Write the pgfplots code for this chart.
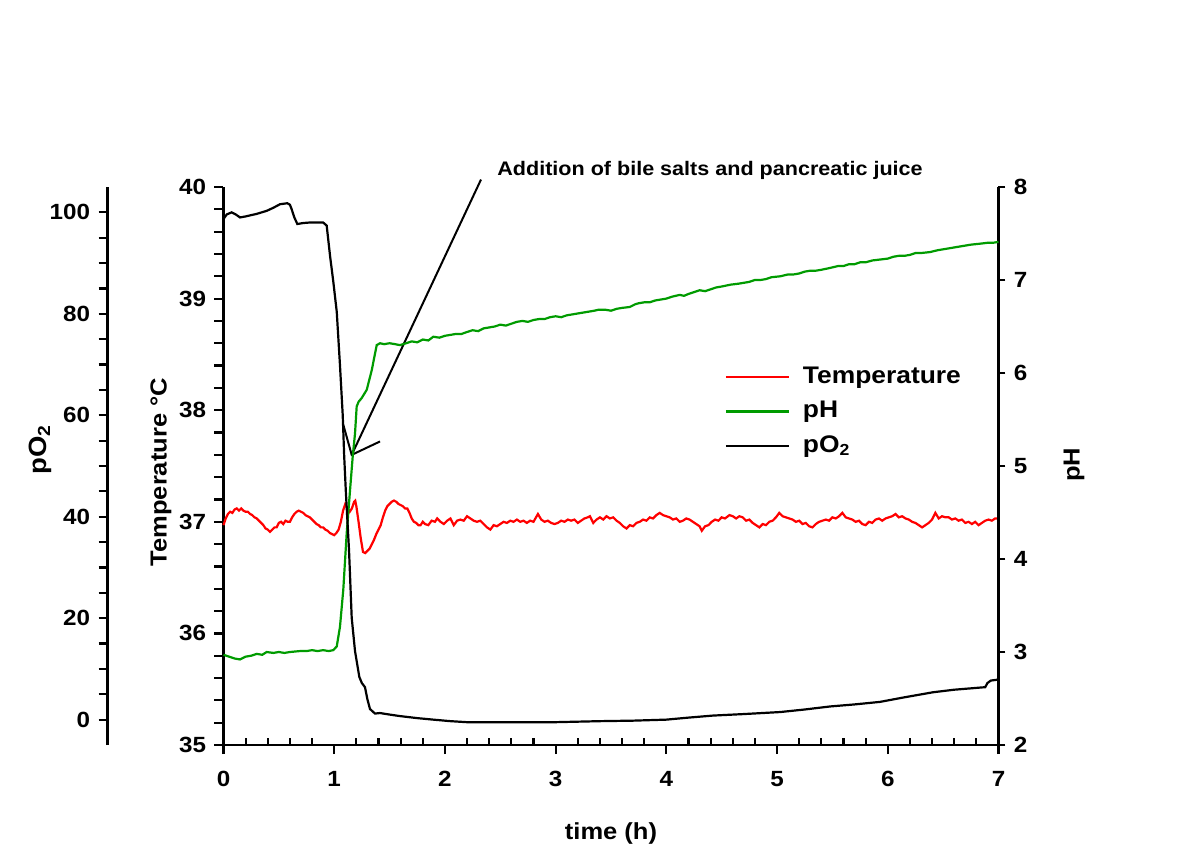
\documentclass[border=0pt]{standalone}
\usepackage{pgfplots}
\pgfplotsset{compat=1.18}
\usepackage{fontspec}
\setmainfont[FakeStretch=1.1]{Liberation Sans}
\definecolor{tred}{RGB}{255,0,0}
\definecolor{tgreen}{RGB}{0,155,0}
\pgfplotsset{
  every axis/.append style={
    width=387.5pt, height=279pt, scale only axis,
    at={(0,0)}, anchor=south west,
    xmin=0, xmax=7,
    /pgf/number format/assume math mode=true,
    tick label style={font=\fontsize{11}{13}\selectfont\bfseries},
    label style={font=\fontsize{11.6}{14}\selectfont\bfseries},
    axis line style={line width=1.3pt,-},
    tick style={black,line width=1.1pt},
    major tick length=4.5pt, minor tick length=4.5pt,
    clip=false,
  },
}
\begin{document}
\fontsize{12}{14}\selectfont\bfseries
\begin{tikzpicture}
\useasboundingbox (-111.75pt,-54pt) rectangle (488.25pt,372.5pt);

% Temperature axis (left) with x axis
\begin{axis}[
  ymin=35, ymax=40,
  axis x line*=bottom, axis y line*=left,
  xtick={0,...,7}, ytick={35,...,40}, minor y tick num=4,
  tick align=outside,
  xticklabel style={yshift=-4.5pt},
  xlabel={time (h)},
  xlabel style={at={(axis description cs:0.5,-0.1577)}, anchor=center},
  ylabel={Temperature °C},
  ylabel style={at={(axis description cs:-0.0806,0.489)}, anchor=center},
  legend style={at={(axis description cs:0.6385,0.692)}, anchor=north west, draw=none, fill=none,
    font=\fontsize{12}{14}\selectfont\bfseries, row sep=3pt, column sep=4.5pt},
  legend cell align=left,
  legend image code/.code={\draw[#1] (0pt,0pt) -- (31.5pt,0pt);},
]
\addplot[tred, line width=1.1pt] coordinates {
(0.00,36.97)(0.02,37.03)(0.04,37.07)(0.06,37.09)(0.08,37.08)(0.10,37.11)(0.12,37.12)(0.14,37.10)(0.16,37.12)(0.18,37.10)
(0.20,37.09)(0.22,37.09)(0.24,37.07)(0.26,37.06)(0.28,37.04)(0.30,37.03)(0.32,37.01)(0.34,36.99)(0.36,36.97)(0.38,36.94)
(0.40,36.93)(0.42,36.91)(0.44,36.93)(0.46,36.95)(0.48,36.95)(0.50,36.99)(0.52,37.00)(0.54,36.98)(0.56,37.01)(0.58,37.00)
(0.60,37.00)(0.62,37.04)(0.64,37.07)(0.66,37.09)(0.68,37.10)(0.70,37.09)(0.72,37.08)(0.74,37.06)(0.76,37.05)(0.78,37.04)
(0.80,37.02)(0.82,37.00)(0.84,36.98)(0.86,36.97)(0.88,36.95)(0.90,36.95)(0.92,36.93)(0.94,36.92)(0.96,36.90)(0.98,36.89)
(1.00,36.88)(1.02,36.90)(1.04,36.93)(1.06,37.00)(1.08,37.10)(1.10,37.16)(1.12,37.12)(1.14,37.09)(1.16,37.12)(1.18,37.18)
(1.19,37.19)(1.20,37.14)(1.22,37.00)(1.24,36.85)(1.26,36.73)(1.28,36.72)(1.30,36.74)(1.32,36.76)(1.34,36.80)(1.36,36.84)
(1.38,36.89)(1.40,36.93)(1.42,36.97)(1.44,37.04)(1.46,37.10)(1.48,37.14)(1.50,37.16)(1.52,37.18)(1.54,37.19)(1.56,37.18)
(1.58,37.16)(1.60,37.15)(1.62,37.14)(1.64,37.12)(1.66,37.12)(1.68,37.08)(1.70,37.03)(1.72,37.00)(1.74,36.99)(1.76,36.97)
(1.78,36.97)(1.80,37.00)(1.82,36.98)(1.85,36.97)(1.88,37.01)(1.91,37.00)(1.93,37.03)(1.96,37.00)(1.99,36.98)(2.02,37.01)
(2.05,37.03)(2.08,36.97)(2.11,37.01)(2.14,37.02)(2.17,37.01)(2.20,37.05)(2.23,37.03)(2.26,37.01)(2.29,37.00)(2.32,37.01)
(2.35,36.98)(2.38,36.95)(2.41,36.93)(2.44,36.97)(2.47,36.96)(2.50,36.98)(2.53,37.00)(2.56,36.99)(2.59,37.01)(2.62,37.00)
(2.65,37.02)(2.68,37.00)(2.71,37.01)(2.74,36.99)(2.77,37.01)(2.80,37.00)(2.84,37.07)(2.87,37.02)(2.90,37.00)(2.93,37.01)
(2.96,36.99)(2.99,36.98)(3.02,36.99)(3.05,37.01)(3.08,37.00)(3.11,37.02)(3.14,37.01)(3.17,37.02)(3.20,36.99)(3.23,37.01)
(3.26,37.03)(3.29,37.04)(3.31,37.05)(3.34,36.99)(3.37,37.02)(3.40,37.04)(3.43,37.02)(3.46,37.05)(3.49,37.03)(3.52,37.04)
(3.55,37.01)(3.58,36.99)(3.61,36.96)(3.64,36.94)(3.67,36.97)(3.70,36.96)(3.73,36.99)(3.76,37.00)(3.79,37.02)(3.82,37.01)
(3.85,37.04)(3.88,37.03)(3.91,37.06)(3.94,37.08)(3.97,37.06)(4.00,37.05)(4.03,37.04)(4.06,37.02)(4.09,37.03)(4.12,37.00)
(4.15,37.01)(4.18,37.03)(4.21,37.02)(4.24,37.00)(4.27,36.98)(4.30,36.96)(4.32,36.92)(4.35,36.96)(4.38,36.97)(4.41,37.00)
(4.44,37.02)(4.47,37.01)(4.50,37.04)(4.53,37.03)(4.57,37.06)(4.60,37.05)(4.63,37.03)(4.66,37.05)(4.69,37.04)(4.72,37.01)
(4.75,37.02)(4.78,36.99)(4.81,36.97)(4.84,36.95)(4.87,36.98)(4.90,36.97)(4.93,37.00)(4.96,37.01)(4.99,37.04)(5.02,37.08)
(5.05,37.05)(5.08,37.04)(5.11,37.03)(5.14,37.02)(5.17,37.00)(5.20,37.01)(5.23,36.98)(5.26,36.99)(5.29,36.96)(5.32,36.95)
(5.35,36.98)(5.38,37.00)(5.41,37.01)(5.44,37.02)(5.47,37.01)(5.50,37.04)(5.53,37.03)(5.56,37.05)(5.59,37.08)(5.62,37.04)
(5.65,37.03)(5.68,37.02)(5.71,37.00)(5.74,37.01)(5.77,36.98)(5.80,36.97)(5.83,37.00)(5.86,36.99)(5.89,37.02)(5.92,37.03)
(5.95,37.01)(5.98,37.03)(6.01,37.04)(6.04,37.05)(6.07,37.07)(6.10,37.04)(6.13,37.05)(6.16,37.03)(6.19,37.02)(6.22,37.00)
(6.25,36.99)(6.28,36.97)(6.31,36.95)(6.34,36.97)(6.37,36.99)(6.40,37.02)(6.43,37.08)(6.46,37.03)(6.49,37.05)(6.52,37.04)
(6.55,37.04)(6.58,37.02)(6.61,37.03)(6.64,37.01)(6.67,37.02)(6.70,36.99)(6.73,37.00)(6.76,36.98)(6.79,37.00)(6.82,36.97)
(6.85,36.99)(6.88,37.01)(6.91,37.02)(6.94,37.01)(6.97,37.03)(7.00,37.03)
};
\addlegendimage{tgreen, line width=1.1pt}
\addlegendimage{black, line width=1.1pt}
\legend{Temperature, pH, pO\textsubscript{2}}
\node[anchor=west, inner sep=0pt, font=\fontsize{9.8}{11}\selectfont\bfseries] at (axis cs:2.47,40.15) {Addition of bile salts and pancreatic juice};
\draw[line width=1pt] (axis cs:2.326,40.067) -- (axis cs:1.158,37.60);
\draw[line width=1pt] (axis cs:1.082,37.87) -- (axis cs:1.158,37.60) -- (axis cs:1.414,37.72);
\node[rotate=90, font=\fontsize{12.5}{14}\selectfont\bfseries] at (rel axis cs:-0.2368,0.529) {pO\textsubscript{2}};
\end{axis}

% minor x ticks pointing inward
\begin{axis}[
  ymin=0, ymax=1,
  axis x line*=bottom, axis y line=none,
  xtick={0.2,0.4,0.6,0.8,1.2,1.4,1.6,1.8,2.2,2.4,2.6,2.8,3.2,3.4,3.6,3.8,4.2,4.4,4.6,4.8,5.2,5.4,5.6,5.8,6.2,6.4,6.6,6.8},
  xticklabels={},
  tick align=inside, major tick length=3.5pt,
]
\end{axis}

% pH axis (right)
\begin{axis}[
  ymin=2, ymax=8,
  axis x line=none, axis y line*=right,
  ytick={2,...,8},
  tick align=outside, major tick length=3.5pt,
  ylabel={pH},
  ylabel style={at={(axis description cs:1.0974,0.502)}, anchor=center},
]
\addplot[tgreen, line width=1.1pt] coordinates {
(0,2.97)(0.05,2.95)(0.1,2.93)(0.149,2.92)(0.2,2.95)(0.25,2.96)(0.3,2.98)(0.35,2.97)(0.39,3.00)(0.45,2.99)
(0.5,3.00)(0.55,2.99)(0.6,3.00)(0.69,3.01)(0.75,3.01)(0.8,3.02)(0.85,3.01)(0.9,3.02)(0.95,3.01)(0.992,3.02)
(1.023,3.06)(1.052,3.27)(1.082,3.67)(1.113,4.28)(1.143,4.74)(1.167,5.10)(1.188,5.35)(1.203,5.64)(1.22,5.69)(1.248,5.73)
(1.294,5.82)(1.339,6.03)(1.384,6.30)(1.414,6.32)(1.45,6.31)(1.5,6.32)(1.55,6.31)(1.594,6.30)(1.65,6.32)(1.7,6.34)
(1.75,6.33)(1.8,6.36)(1.85,6.35)(1.895,6.39)(1.95,6.38)(2.0,6.40)(2.05,6.41)(2.1,6.42)(2.15,6.42)(2.197,6.44)
(2.25,6.46)(2.3,6.45)(2.35,6.48)(2.4,6.49)(2.45,6.50)(2.5,6.52)(2.55,6.51)(2.6,6.53)(2.65,6.55)(2.7,6.56)
(2.75,6.55)(2.8,6.57)(2.85,6.58)(2.9,6.58)(2.95,6.60)(3.0,6.61)(3.05,6.60)(3.1,6.62)(3.15,6.63)(3.2,6.64)
(3.25,6.65)(3.3,6.66)(3.35,6.67)(3.386,6.68)(3.45,6.68)(3.5,6.67)(3.55,6.69)(3.6,6.70)(3.67,6.71)(3.72,6.74)
(3.75,6.75)(3.8,6.76)(3.85,6.76)(3.9,6.78)(3.95,6.79)(4.0,6.80)(4.05,6.82)(4.12,6.84)(4.16,6.83)(4.2,6.85)
(4.25,6.87)(4.3,6.89)(4.35,6.88)(4.4,6.90)(4.45,6.92)(4.5,6.93)(4.58,6.95)(4.65,6.96)(4.7,6.97)(4.75,6.98)
(4.8,7.00)(4.85,7.00)(4.9,7.01)(4.95,7.03)(5.03,7.04)(5.1,7.06)(5.15,7.06)(5.2,7.07)(5.25,7.09)(5.3,7.10)
(5.35,7.10)(5.4,7.11)(5.48,7.13)(5.55,7.15)(5.6,7.15)(5.65,7.17)(5.7,7.17)(5.75,7.19)(5.8,7.19)(5.86,7.21)
(5.93,7.22)(6.0,7.23)(6.05,7.25)(6.1,7.26)(6.15,7.26)(6.2,7.27)(6.25,7.29)(6.3,7.29)(6.38,7.30)(6.45,7.32)
(6.5,7.33)(6.55,7.34)(6.6,7.35)(6.65,7.36)(6.7,7.37)(6.75,7.38)(6.83,7.39)(6.9,7.40)(6.95,7.40)(7.0,7.41)
};
\end{axis}

% pO2 data axis (hidden)
\begin{axis}[
  ymin=-5, ymax=105,
  axis lines=none,
]
\addplot[black, line width=1.1pt] coordinates {
(0,98.7)(0.03,99.6)(0.074,100.0)(0.11,99.6)(0.149,99.0)(0.2,99.2)(0.239,99.4)(0.3,99.7)(0.39,100.3)(0.45,100.9)
(0.51,101.6)(0.576,101.8)(0.6,101.5)(0.616,100.6)(0.64,99.0)(0.667,97.7)(0.72,97.9)(0.78,98.0)(0.85,98.0)(0.90,98.0)
(0.932,97.4)(0.962,91.5)(0.992,86.3)(1.023,80.4)(1.052,69.9)(1.077,60.0)(1.09,52.0)(1.105,45.0)(1.134,33.3)(1.158,20.1)
(1.188,13.5)(1.227,8.4)(1.25,7.2)(1.278,6.4)(1.30,4.0)(1.323,2.1)(1.368,1.2)(1.414,1.3)(1.5,1.0)(1.594,0.7)
(1.75,0.3)(1.895,0.0)(2.05,-0.3)(2.197,-0.5)(2.5,-0.5)(3.0,-0.5)(3.40,-0.3)(3.7,-0.2)(4.00,0)(4.2,0.4)
(4.42,0.8)(4.7,1.1)(5.03,1.5)(5.25,2.0)(5.48,2.6)(5.7,3.0)(5.93,3.5)(6.15,4.4)(6.41,5.4)(6.6,5.9)
(6.88,6.4)(6.9,7.2)(6.93,7.7)(7.0,7.9)
};
\end{axis}

% pO2 offset axis (ticks only)
\begin{axis}[
  at={(-58pt,0)}, width=1pt,
  xmin=0, xmax=1,
  ymin=-5, ymax=105,
  axis x line=none, axis y line*=left,
  ytick={0,20,...,100}, minor y tick num=3,
  tick align=outside,
]
\end{axis}
\end{tikzpicture}
\end{document}
